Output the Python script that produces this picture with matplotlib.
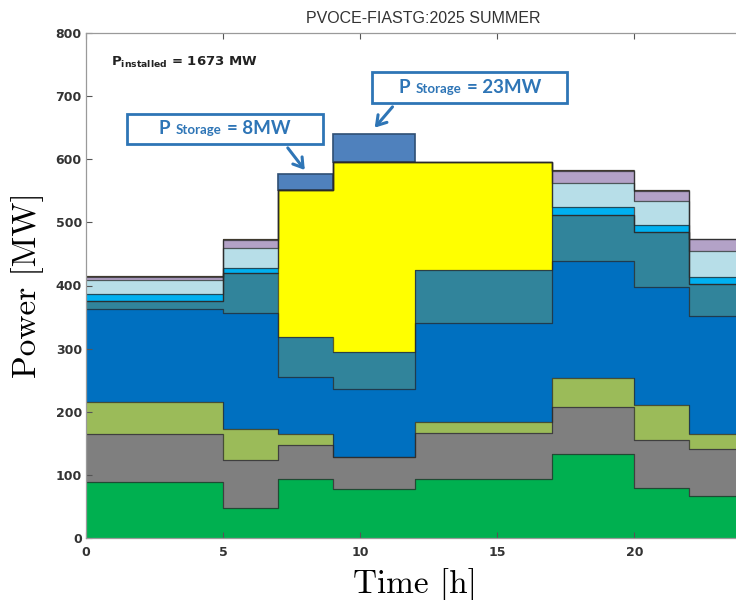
import numpy as np
import matplotlib
matplotlib.use('Agg')
import matplotlib.pyplot as plt
from matplotlib.offsetbox import TextArea, HPacker, AnnotationBbox, DrawingArea

# ---- data -------------------------------------------------------------
hours = [0, 5, 7, 9, 12, 17, 20, 22, 24]
green_src    = [89, 48, 93, 78, 93, 133, 80, 66]
grey_src     = [76, 76, 54, 51, 74, 74, 75, 75]
olive_src    = [50, 49, 18, 0, 16, 47, 55, 24]
blue_src     = [147, 183, 90, 107, 157, 185, 187, 187]
teal_src     = [14, 64, 63, 59, 85, 73, 87, 51]
pv_src       = [0, 0, 233, 301, 171, 0, 0, 0]
cyan_src     = [10, 7, 0, 0, 0, 12, 12, 11]
lightblue_src = [23, 32, 0, 0, 0, 39, 38, 40]
lavender_src = [4, 13, 0, 0, 0, 19, 16, 19]
other_src    = [2, 1, 0, 0, 0, 1, 2, 1]
storage      = [0, 0, 26, 44, 0, 0, 0, 0]
storage_labels = ['8MW', '23MW']

layers = [green_src, grey_src, olive_src, blue_src, teal_src, pv_src,
          cyan_src, lightblue_src, lavender_src, other_src]
colors = ['#00b050', '#7f7f7f', '#9bbb59', '#0070c0', '#31849b', '#ffff00',
          '#00b0f0', '#b7dee8', '#b3a2c7', '#8a6d3b']

title = 'PVOCE-FIASTG:2025 SUMMER'
xticks = [0, 5, 10, 15, 20]
yticks = [0, 100, 200, 300, 400, 500, 600, 700, 800]

# ---- figure -----------------------------------------------------------
fig = plt.figure(figsize=(7.36, 6.0), dpi=100)
ax = fig.add_axes([86/736, 62/600, 658/736, 505/600])

x = np.array(hours, dtype=float)
bottom = np.zeros(len(hours) - 1)
tops = []
for vals, c in zip(layers, colors):
    v = np.array(vals, dtype=float)
    top = bottom + v
    ax.fill_between(x, np.append(bottom, bottom[-1]), np.append(top, top[-1]),
                    step='post', facecolor=c, edgecolor='none', lw=0)
    tops.append(top)
    bottom = top

for top in tops:
    ax.step(x, np.append(top, top[-1]), where='post', color='#2a2a2a',
            lw=0.9, alpha=0.75)

# storage boxes on top of the stack
st = np.array(storage, dtype=float)
mask = st > 0
ax.bar(x[:-1][mask], st[mask], width=np.diff(x)[mask], bottom=bottom[mask],
       align='edge', color='#4f81bd', edgecolor='#2f4f74', lw=1.2)

ax.set_xlim(0, 24)
ax.set_ylim(0, 800)
ax.set_xticks(xticks)
ax.set_yticks(yticks)
ax.tick_params(direction='in', top=True, right=True, length=4, color='#555555',
               labelsize=9, labelcolor='#333333')
ax.tick_params(axis='x', pad=6)
ax.tick_params(axis='y', pad=3)
for lab in ax.get_xticklabels() + ax.get_yticklabels():
    lab.set_fontweight('bold')
for s in ax.spines.values():
    s.set_color('#9a9a9a')
    s.set_linewidth(0.9)

ax.set_title(title, fontsize=11.5, color='#333333', pad=7, family='Liberation Sans',
             x=0.513)
ax.set_xlabel('Time [h]', fontfamily='cmr10', fontsize=24, labelpad=6)
ax.set_ylabel('Power [MW]', fontfamily='cmr10', fontsize=24, labelpad=8)

ax.text(0.9, 754, r'P$_{\mathregular{installed}}$ = 1673 MW', fontsize=9.5,
        color='#222222', fontweight='bold', va='center', ha='left')

blue_txt = '#2e75b6'

def storage_box(val, xybox, side):
    tp_big = dict(color=blue_txt, fontsize=13.5, fontweight='bold', family='Lato')
    tp_small = dict(color=blue_txt, fontsize=9.5, fontweight='bold', family='Lato')
    parts = [DrawingArea(side, 1),
             TextArea('P', textprops=tp_big),
             TextArea('Storage', textprops=tp_small),
             TextArea('= ' + val, textprops=tp_big),
             DrawingArea(side, 1)]
    pack = HPacker(children=parts, align='baseline', pad=0, sep=4)
    ab = AnnotationBbox(pack, xybox, xycoords='data', pad=0.5,
                        bboxprops=dict(edgecolor=blue_txt, facecolor='white', lw=2,
                                       boxstyle='square,pad=0.5'))
    ax.add_artist(ab)

storage_box(storage_labels[0], (5.06, 648), 14)
storage_box(storage_labels[1], (13.99, 713), 10)

arrow_kw = dict(arrowstyle='->,head_length=0.55,head_width=0.35', color=blue_txt,
                lw=2.2, shrinkA=0, shrinkB=0, mutation_scale=12)
ax.annotate('', xy=(7.98, 583), xytext=(7.36, 618), arrowprops=arrow_kw)
ax.annotate('', xy=(10.53, 650), xytext=(11.18, 683), arrowprops=arrow_kw)

fig.savefig('out.png', dpi=100)
